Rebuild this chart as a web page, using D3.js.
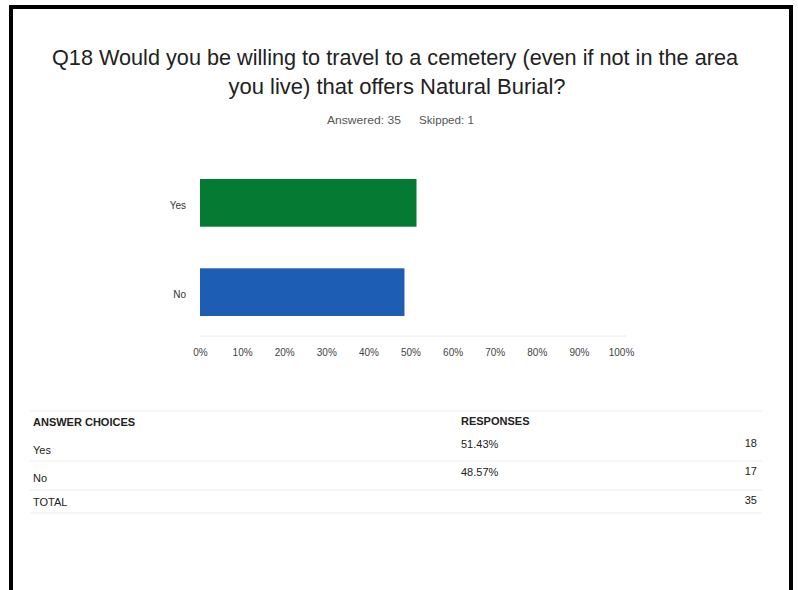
<!DOCTYPE html>
<html>
<head>
<meta charset="utf-8">
<script src="https://cdn.jsdelivr.net/npm/d3@7"></script>
<style>
  html, body { margin: 0; padding: 0; background: #fff; }
  svg { display: block; font-family: "Liberation Sans", Arial, sans-serif; }
</style>
</head>
<body>
<svg id="chart" width="798" height="590"></svg>
<script>
// Survey question Q18 results
const titleLines = [
  "Q18 Would you be willing to travel to a cemetery (even if not in the area",
  "you live) that offers Natural Burial?"
];
const summaryParts = ["Answered: 35", "Skipped: 1"];
const categories = ["Yes", "No"];
const percents = [51.43, 48.57];
const counts = [18, 17];
const total = 35;
const tickValues = [0, 10, 20, 30, 40, 50, 60, 70, 80, 90, 100];
const barColors = ["#057a32", "#1d5db4"];

const svg = d3.select("#chart");

// page frame
svg.append("path")
  .attr("d", "M11,590 V7 H791 V590")
  .attr("fill", "none")
  .attr("stroke", "#000")
  .attr("stroke-width", 4);

// title
const titleG = svg.append("g");
titleG.append("text")
  .attr("x", 395).attr("y", 65)
  .attr("text-anchor", "middle")
  .attr("font-size", 22)
  .attr("fill", "#222")
  .attr("textLength", 686)
  .attr("lengthAdjust", "spacingAndGlyphs")
  .text(titleLines[0]);
titleG.append("text")
  .attr("x", 397).attr("y", 94)
  .attr("text-anchor", "middle")
  .attr("font-size", 22)
  .attr("fill", "#222")
  .attr("textLength", 337)
  .attr("lengthAdjust", "spacingAndGlyphs")
  .text(titleLines[1]);

// answered / skipped summary
svg.append("text")
  .attr("x", 327).attr("y", 124)
  .attr("font-size", 11.5).attr("fill", "#555")
  .attr("textLength", 74).attr("lengthAdjust", "spacingAndGlyphs")
  .text(summaryParts[0]);
svg.append("text")
  .attr("x", 419).attr("y", 124)
  .attr("font-size", 11.5).attr("fill", "#555")
  .attr("textLength", 55).attr("lengthAdjust", "spacingAndGlyphs")
  .text(summaryParts[1]);

// bar chart
const x = d3.scaleLinear().domain([0, 100]).range([200, 621]);
const yBand = d3.scaleBand().domain(categories).range([179, 316]).paddingInner(0.466);

svg.append("line")
  .attr("x1", 200).attr("x2", 626)
  .attr("y1", 336).attr("y2", 336)
  .attr("stroke", "#e8e8e8").attr("stroke-width", 1);

svg.append("g")
  .selectAll("rect")
  .data(categories)
  .join("rect")
  .attr("x", x(0))
  .attr("y", d => yBand(d))
  .attr("width", (d, i) => x(percents[i]) - x(0))
  .attr("height", yBand.bandwidth())
  .attr("fill", (d, i) => barColors[i]);

// category labels
const yAxis = d3.axisLeft(yBand).tickSize(0).tickPadding(14);
const yAxisG = svg.append("g").attr("transform", `translate(${x(0)},0)`).call(yAxis);
yAxisG.select(".domain").remove();
yAxisG.selectAll("text").attr("font-size", 10).attr("fill", "#333")
  .attr("dy", "0.62em")
  .attr("font-family", "Liberation Sans, Arial, sans-serif");

// percent axis labels
const xAxis = d3.axisBottom(x).tickValues(tickValues).tickFormat(d => d + "%").tickSize(0).tickPadding(0);
const xAxisG = svg.append("g").attr("transform", "translate(0,356)").call(xAxis);
xAxisG.select(".domain").remove();
xAxisG.selectAll("text").attr("font-size", 10).attr("fill", "#444")
  .attr("dy", 0)
  .attr("font-family", "Liberation Sans, Arial, sans-serif");

// summary table
const table = svg.append("g").attr("font-size", 11).attr("fill", "#222");
const colChoice = 33, colPct = 461, colCount = 757;

// faint row separators
[411, 461, 490, 513].forEach(yy => {
  table.append("line")
    .attr("x1", 30).attr("x2", 762)
    .attr("y1", yy).attr("y2", yy)
    .attr("stroke", "#f6f6f6").attr("stroke-width", 2);
});

table.append("text").attr("x", colChoice).attr("y", 426)
  .attr("font-weight", "bold").text("ANSWER CHOICES");
table.append("text").attr("x", colPct).attr("y", 425)
  .attr("font-weight", "bold").text("RESPONSES");

const rowY = [454, 482];
const pctY = [448, 476];
categories.forEach((c, i) => {
  table.append("text").attr("x", colChoice).attr("y", rowY[i]).text(c);
  table.append("text").attr("x", colPct).attr("y", pctY[i]).text(percents[i].toFixed(2) + "%");
  table.append("text").attr("x", colCount).attr("y", pctY[i] - 1)
    .attr("text-anchor", "end").text(counts[i]);
});
table.append("text").attr("x", colChoice).attr("y", 506).text("TOTAL");
table.append("text").attr("x", colCount).attr("y", 504)
  .attr("text-anchor", "end").text(total);
</script>
</body>
</html>
